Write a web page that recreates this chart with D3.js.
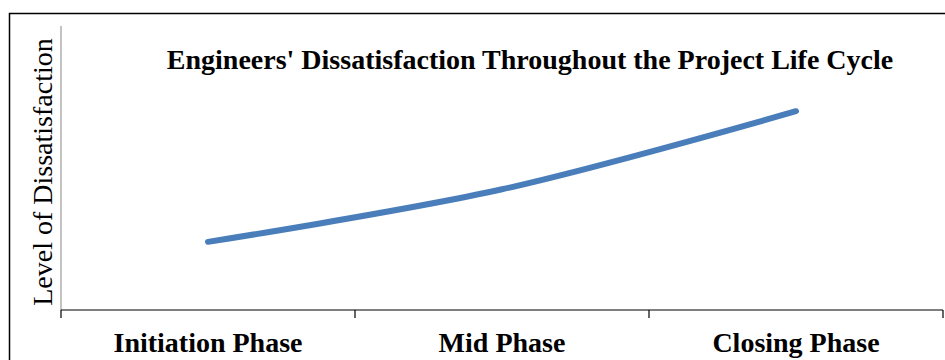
<!DOCTYPE html>
<html>
<head>
<meta charset="utf-8">
<script src="https://cdn.jsdelivr.net/npm/d3@7"></script>
<style>
  html, body { margin: 0; padding: 0; background: #fff; }
  svg { display: block; }
</style>
</head>
<body>
<svg id="chart" width="945" height="360"></svg>
<script>
// Project phases along the x axis and the dissatisfaction level at each
const phases = ["Initiation Phase", "Mid Phase", "Closing Phase"];
const dissatisfaction = [2.4, 4.25, 7.0];
const yDomain = [0, 10];

const titleText = "Engineers' Dissatisfaction Throughout the Project Life Cycle";
const yAxisLabel = "Level of Dissatisfaction";

const svg = d3.select("#chart");
const W = 945, H = 360;
const plot = { left: 61, right: 943, top: 26, bottom: 310 };
const serif = "'Liberation Serif', 'Times New Roman', serif";

// Outer chart frame
svg.append("rect")
  .attr("x", 9.5).attr("y", 13.5)
  .attr("width", W + 20).attr("height", H + 20)
  .attr("fill", "#fff").attr("stroke", "#000").attr("stroke-width", 1.5);

const x = d3.scaleBand().domain(phases).range([plot.left, plot.right]).padding(0);
const y = d3.scaleLinear().domain(yDomain).range([plot.bottom, plot.top]);

// Vertical axis (no ticks)
svg.append("line")
  .attr("x1", plot.left).attr("x2", plot.left)
  .attr("y1", plot.top).attr("y2", plot.bottom)
  .attr("stroke", "#868686").attr("stroke-width", 1);

// Category axis with tick marks at band boundaries
const xAxis = svg.append("g").attr("transform", `translate(0,${plot.bottom})`);
xAxis.append("line")
  .attr("x1", plot.left).attr("x2", plot.right)
  .attr("stroke", "#000").attr("stroke-width", 1.2);
const boundaries = phases.map(p => x(p)).concat([x(phases[phases.length - 1]) + x.bandwidth()]);
xAxis.selectAll("line.tick")
  .data(boundaries)
  .join("line")
  .attr("class", "tick")
  .attr("x1", d => d).attr("x2", d => d)
  .attr("y1", 0).attr("y2", 8)
  .attr("stroke", "#000").attr("stroke-width", 1.2);
xAxis.selectAll("text")
  .data(phases)
  .join("text")
  .attr("x", d => x(d) + x.bandwidth() / 2)
  .attr("y", 42)
  .attr("text-anchor", "middle")
  .attr("font-family", serif)
  .attr("font-weight", "bold")
  .attr("font-size", 28)
  .attr("fill", "#000")
  .text(d => d);

// Axis title
svg.append("text")
  .attr("transform", `translate(52,${(plot.top + plot.bottom) / 2 + 4}) rotate(-90)`)
  .attr("text-anchor", "middle")
  .attr("font-family", serif)
  .attr("font-size", 28)
  .attr("fill", "#000")
  .text(yAxisLabel);

// Chart title
svg.append("text")
  .attr("x", 530).attr("y", 69)
  .attr("text-anchor", "middle")
  .attr("font-family", serif)
  .attr("font-weight", "bold")
  .attr("font-size", 28)
  .attr("fill", "#000")
  .text(titleText);

// Smoothed dissatisfaction line
const line = d3.line()
  .x((d, i) => x(phases[i]) + x.bandwidth() / 2)
  .y(d => y(d))
  .curve(d3.curveCatmullRom.alpha(0.5));

svg.append("path")
  .datum(dissatisfaction)
  .attr("d", line)
  .attr("fill", "none")
  .attr("stroke", "#4a7ebb")
  .attr("stroke-width", 6)
  .attr("stroke-linecap", "round")
  .attr("stroke-linejoin", "round");
</script>
</body>
</html>
